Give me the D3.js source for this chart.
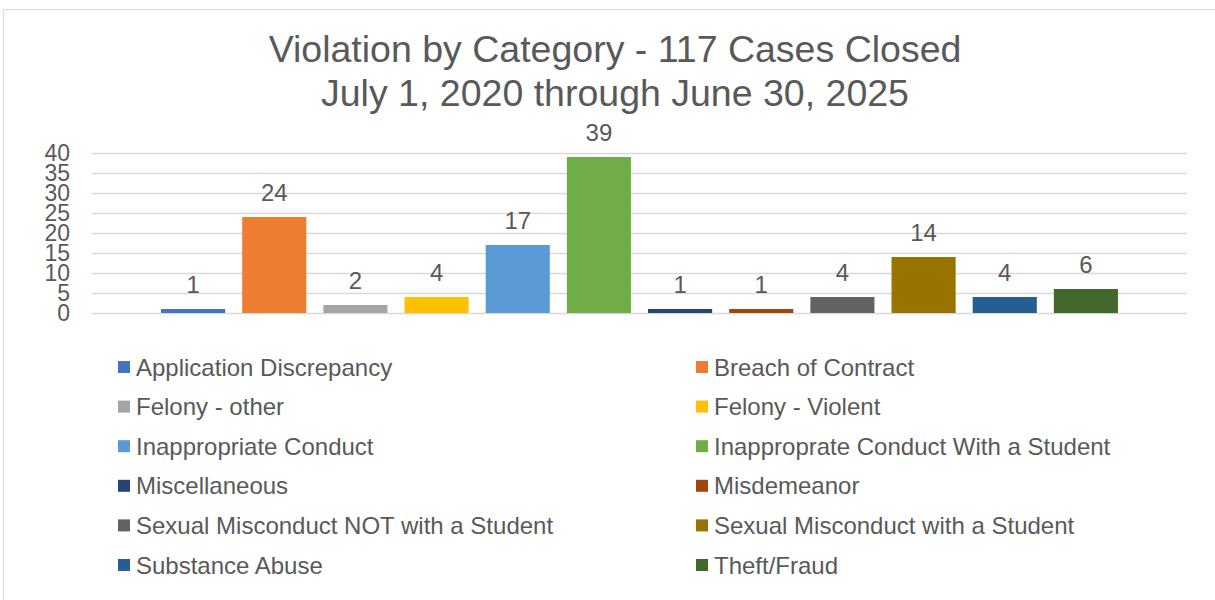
<!DOCTYPE html>
<html>
<head>
<meta charset="utf-8">
<script src="https://cdn.jsdelivr.net/npm/d3@7"></script>
<style>
  body { margin: 0; background: #fff; }
  text { font-family: "Liberation Sans", Arial, sans-serif; fill: #595959; }
</style>
</head>
<body>
<div id="chart"></div>
<script>
// chart data
var categories = [
  "Application Discrepancy", "Breach of Contract", "Felony - other", "Felony - Violent",
  "Inappropriate Conduct", "Inapproprate Conduct With a Student", "Miscellaneous", "Misdemeanor",
  "Sexual Misconduct NOT with a Student", "Sexual Misconduct with a Student", "Substance Abuse", "Theft/Fraud"
];
var cases = [1, 24, 2, 4, 17, 39, 1, 1, 4, 14, 4, 6];
var colors = ["#4472C4", "#ED7D31", "#A5A5A5", "#FFC000", "#5B9BD5", "#70AD47",
              "#264478", "#9E480E", "#636363", "#997300", "#255E91", "#43682B"];
var yTicks = [0, 5, 10, 15, 20, 25, 30, 35, 40];
var titleLines = ["Violation by Category - 117 Cases Closed", "July 1, 2020 through June 30, 2025"];

var svgWidth = 1215;
var svgHeight = 600;

var margin = { top: 153, left: 92, right: 28 };
var width = svgWidth - margin.left - margin.right;
var height = 160;

var svg = d3.select("#chart")
  .append("svg")
  .attr("width", svgWidth)
  .attr("height", svgHeight);

// chart area border
svg.append("rect")
  .attr("x", 3.5)
  .attr("y", 9.5)
  .attr("width", svgWidth + 10)
  .attr("height", svgHeight + 10)
  .attr("fill", "none")
  .attr("stroke", "#d9d9d9")
  .attr("stroke-width", 1);

// title
svg.append("g").selectAll("text")
  .data(titleLines)
  .enter()
  .append("text")
  .attr("x", 615)
  .attr("y", (d, i) => 62 + i * 44)
  .attr("text-anchor", "middle")
  .style("font-size", "37.5px")
  .text(d => d);

var chartGroup = svg.append("g")
  .attr("transform", `translate(${margin.left}, ${margin.top})`);

// scales - one cluster of 12 series
var xScale = d3.scaleBand()
  .domain(categories)
  .range([60.5, width - 60.5])
  .paddingInner(0.21)
  .paddingOuter(0.105);

var yScale = d3.scaleLinear()
  .domain([0, 40])
  .range([height, 0]);

// gridlines + y labels
var leftAxis = d3.axisLeft(yScale)
  .tickValues(yTicks)
  .tickSize(-width)
  .tickPadding(22);

var yAxis = chartGroup.append("g").call(leftAxis);
yAxis.select(".domain").remove();
yAxis.selectAll("line")
  .attr("stroke", "#d9d9d9")
  .attr("stroke-width", 1.5);
yAxis.selectAll("text")
  .attr("fill", "#595959")
  .style("font-size", "23px")
  .style("font-family", "'Liberation Sans', Arial, sans-serif");

// bars
chartGroup.selectAll(".bar")
  .data(cases)
  .enter()
  .append("rect")
  .attr("class", "bar")
  .attr("x", (d, i) => xScale(categories[i]))
  .attr("y", d => yScale(d))
  .attr("width", xScale.bandwidth())
  .attr("height", d => height - yScale(d))
  .attr("fill", (d, i) => colors[i]);

// value labels
chartGroup.selectAll(".valueLabel")
  .data(cases)
  .enter()
  .append("text")
  .attr("class", "valueLabel")
  .attr("x", (d, i) => xScale(categories[i]) + xScale.bandwidth() / 2)
  .attr("y", d => yScale(d) - 16)
  .attr("text-anchor", "middle")
  .style("font-size", "24px")
  .text(d => d);

// legend, two columns
var legend = svg.append("g").selectAll("g")
  .data(categories)
  .enter()
  .append("g")
  .attr("transform", (d, i) => `translate(${i % 2 === 0 ? 118 : 696}, ${367 + Math.floor(i / 2) * 39.6})`);

legend.append("rect")
  .attr("x", 0)
  .attr("y", -6)
  .attr("width", 12)
  .attr("height", 12)
  .attr("fill", (d, i) => colors[i]);

legend.append("text")
  .attr("x", 18)
  .attr("y", 8.5)
  .style("font-size", "24px")
  .text(d => d);
</script>
</body>
</html>
